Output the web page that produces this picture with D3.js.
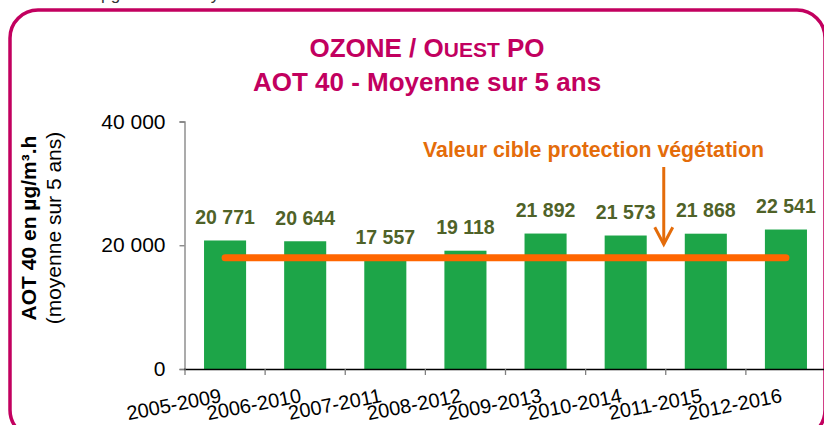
<!DOCTYPE html>
<html>
<head>
<meta charset="utf-8">
<script src="https://cdn.jsdelivr.net/npm/d3@7"></script>
<style>
  html, body { margin: 0; padding: 0; background: #fff; }
  svg { display: block; font-family: "Liberation Sans", Arial, sans-serif; }
</style>
</head>
<body>
<svg id="chart" width="824" height="425"></svg>
<script>
// ---- data ----
const categories = ["2005-2009", "2006-2010", "2007-2011", "2008-2012", "2009-2013", "2010-2014", "2011-2015", "2012-2016"];
const values = [20771, 20644, 17557, 19118, 21892, 21573, 21868, 22541];
const targetValue = 18000;
const yTicks = [0, 20000, 40000];
const titleLine1 = ["OZONE / O", "UEST", " PO"];
const titleLine2 = "AOT 40 - Moyenne sur 5 ans";
const yTitleBold = "AOT 40 en µg/m³.h";
const yTitleSub = "(moyenne sur 5 ans)";
const annotation = "Valeur cible protection végétation";
const topFragment = "de 6 000 µg/m³.h en moyenne sur 5 ans";

// ---- setup ----
const svg = d3.select("#chart");
const fr = d3.formatLocale({ decimal: ",", thousands: "\u00a0", grouping: [3], currency: ["", " €"] });
const fmt = fr.format(",d");

const magenta = "#C2005F";
const orangeTxt = "#E46C0A";
const orangeLine = "#FF6600";
const green = "#1DA548";
const olive = "#4F6228";

const x = d3.scaleBand().domain(categories).range([185, 826]).paddingInner(0.475).paddingOuter(0.2375);
const y = d3.scaleLinear().domain([0, 40000]).range([369, 121.5]);
const step = x.step();
const x0 = 185;

// top fragment (cut off by the page edge, as in the source)
svg.append("text").attr("x", 30).attr("y", 0).attr("font-size", 17).attr("fill", "#333").text(topFragment);

// frame
svg.append("rect").attr("x", 10).attr("y", 10).attr("width", 815).attr("height", 428)
  .attr("rx", 28).attr("ry", 28).attr("fill", "none").attr("stroke", magenta).attr("stroke-width", 3.5);

// titles
const t1 = svg.append("text").attr("x", 427).attr("y", 57).attr("text-anchor", "middle")
  .attr("font-size", 26).attr("font-weight", "bold").attr("fill", magenta);
t1.append("tspan").text(titleLine1[0]);
t1.append("tspan").attr("font-size", 21).text(titleLine1[1]);
t1.append("tspan").text(titleLine1[2]);
svg.append("text").attr("x", 427).attr("y", 91).attr("text-anchor", "middle")
  .attr("font-size", 26).attr("font-weight", "bold").attr("fill", magenta).text(titleLine2);

// y axis title
svg.append("text").attr("transform", "translate(36,228) rotate(-90)").attr("text-anchor", "middle")
  .attr("font-size", 21).attr("font-weight", "bold").attr("fill", "#000").text(yTitleBold);
svg.append("text").attr("transform", "translate(61,228) rotate(-90)").attr("text-anchor", "middle")
  .attr("font-size", 21).attr("fill", "#000").text(yTitleSub);

// bars
svg.append("g").selectAll("rect").data(values).join("rect")
  .attr("x", (d, i) => x(categories[i]))
  .attr("width", x.bandwidth())
  .attr("y", d => y(d))
  .attr("height", d => y(0) - y(d))
  .attr("fill", green);

// y axis
const yAxis = svg.append("g").attr("transform", "translate(184.5,0)")
  .call(d3.axisLeft(y).tickValues(yTicks).tickSize(5).tickPadding(14).tickFormat(fmt));
yAxis.select(".domain").attr("stroke", "#7f7f7f").attr("stroke-width", 1.3);
yAxis.selectAll(".tick line").attr("stroke", "#7f7f7f").attr("stroke-width", 1.3);
yAxis.selectAll(".tick text").attr("font-size", 21).attr("fill", "#000")
  .attr("font-family", "Liberation Sans, Arial, sans-serif");

// x axis
svg.append("line").attr("x1", 184).attr("x2", 824).attr("y1", y(0) + 0.5).attr("y2", y(0) + 0.5)
  .attr("stroke", "#000").attr("stroke-width", 1.3);
svg.append("g").selectAll("line").data(d3.range(categories.length)).join("line")
  .attr("x1", i => x0 + i * step).attr("x2", i => x0 + i * step)
  .attr("y1", y(0)).attr("y2", y(0) + 6)
  .attr("stroke", "#7f7f7f").attr("stroke-width", 1.3);
svg.append("g").selectAll("text").data(categories).join("text")
  .attr("transform", d => `translate(${x(d) + x.bandwidth() / 2 - 3},${y(0) + 33}) rotate(-11)`)
  .attr("text-anchor", "end").attr("font-size", 20).attr("fill", "#000").text(d => d);

// value labels
svg.append("g").selectAll("text").data(values).join("text")
  .attr("x", (d, i) => x(categories[i]) + x.bandwidth() / 2)
  .attr("y", d => y(d) - 16.5)
  .attr("text-anchor", "middle").attr("font-size", 19.5).attr("font-weight", "bold")
  .attr("fill", olive).text(d => fmt(d));

// target line
const cx = i => x(categories[i]) + x.bandwidth() / 2;
svg.append("line").attr("x1", cx(0)).attr("x2", cx(categories.length - 1))
  .attr("y1", y(targetValue)).attr("y2", y(targetValue))
  .attr("stroke", orangeLine).attr("stroke-width", 7).attr("stroke-linecap", "round");

// annotation
const ax = x0 + 6 * step - 2;
svg.append("text").attr("x", 593.5).attr("y", 157).attr("text-anchor", "middle")
  .attr("font-size", 21.3).attr("font-weight", "bold").attr("fill", orangeTxt).text(annotation);
svg.append("line").attr("x1", ax).attr("x2", ax).attr("y1", 167).attr("y2", y(20000) - 1)
  .attr("stroke", orangeTxt).attr("stroke-width", 3);
svg.append("path").attr("d", `M${ax - 9},${y(20000) - 18} L${ax},${y(20000) - 1} L${ax + 9},${y(20000) - 18}`)
  .attr("fill", "none").attr("stroke", orangeTxt).attr("stroke-width", 3).attr("stroke-linejoin", "miter");
</script>
</body>
</html>
